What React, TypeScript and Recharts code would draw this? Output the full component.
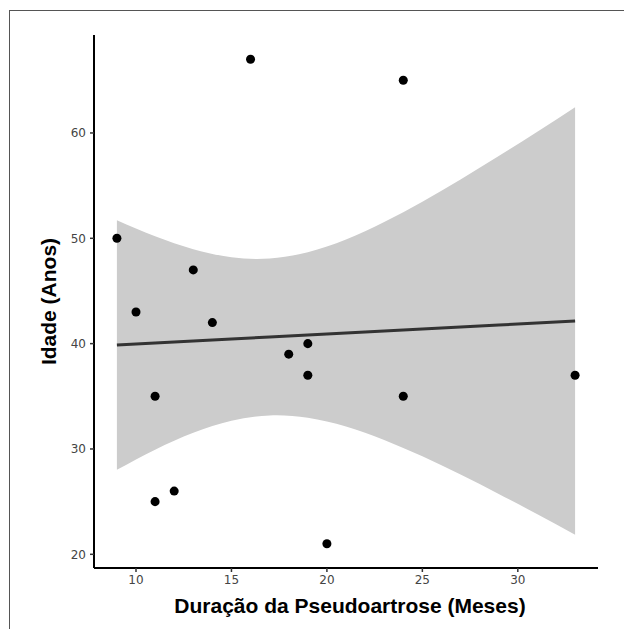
import {
  Area,
  ComposedChart,
  Label,
  Line,
  Scatter,
  XAxis,
  YAxis,
} from "recharts";

// observed points (months, age)
const pointMonths = [9, 10, 11, 11, 12, 13, 14, 16, 18, 19, 19, 20, 24, 24, 33];
const pointAges = [50, 43, 35, 25, 26, 47, 42, 67, 39, 40, 37, 21, 65, 35, 37];

// fitted line and confidence band
const bandMonths = [9, 11, 13, 15, 17, 19, 21, 23, 25, 27, 29, 31, 33];
const bandLow = [28.02, 29.93, 31.53, 32.68, 33.18, 32.96, 32.13, 30.86, 29.3, 27.57, 25.73, 23.82, 21.85];
const bandHigh = [51.72, 50.19, 48.97, 48.2, 48.08, 48.68, 49.89, 51.55, 53.48, 55.59, 57.81, 60.1, 62.45];
const fitAge = [39.87, 40.06, 40.25, 40.44, 40.63, 40.82, 41.01, 41.2, 41.39, 41.58, 41.77, 41.96, 42.15];

const xTicks = [10, 15, 20, 25, 30];
const yTicks = [20, 30, 40, 50, 60];

const bandRows = bandMonths.map((x, i) => ({
  x,
  band: [bandLow[i], bandHigh[i]],
  fit: fitAge[i],
}));

const points = pointMonths.map((x, i) => ({ x, y: pointAges[i] }));

const tickStyle = { fill: "#444", fontSize: 12, fontFamily: "DejaVu Sans" };
const titleStyle = {
  fill: "#000",
  fontSize: 21,
  fontWeight: 700,
  fontFamily: "Liberation Sans",
};

export default function App() {
  return (
    <div
      style={{
        position: "absolute",
        left: 0,
        top: 0,
        width: 624,
        height: 629,
        background: "#fff",
      }}
    >
      <div
        style={{
          position: "absolute",
          left: 9,
          top: 10,
          right: 0,
          bottom: 0,
          borderTop: "1.5px solid #555",
          borderLeft: "1.5px solid #555",
        }}
      />
      <div style={{ position: "absolute", left: 0, top: 0 }}>
        <ComposedChart
          width={624}
          height={629}
          data={bandRows}
          margin={{ top: 35, right: 26, bottom: 0, left: 0 }}
        >
          <XAxis
            dataKey="x"
            type="number"
            domain={[7.8, 34.2]}
            ticks={xTicks}
            allowDataOverflow
            height={61}
            tick={tickStyle}
            tickSize={4}
            tickMargin={3}
            axisLine={{ stroke: "#000", strokeWidth: 2 }}
            tickLine={{ stroke: "#333", strokeWidth: 1.5 }}
          >
            <Label
              value="Duração da Pseudoartrose (Meses)"
              position="center"
              dx={4}
              dy={7}
              style={titleStyle}
            />
          </XAxis>
          <YAxis
            type="number"
            domain={[18.7, 69.3]}
            ticks={yTicks}
            allowDataOverflow
            width={94}
            tick={tickStyle}
            tickSize={4}
            tickMargin={4}
            axisLine={{ stroke: "#000", strokeWidth: 2 }}
            tickLine={{ stroke: "#333", strokeWidth: 1.5 }}
          >
            <Label
              value="Idade (Anos)"
              position="center"
              angle={-90}
              dx={2}
              style={titleStyle}
            />
          </YAxis>
          <Area
            dataKey="band"
            type="natural"
            stroke="none"
            fill="#cccccc"
            fillOpacity={1}
            isAnimationActive={false}
          />
          <Line
            dataKey="fit"
            type="linear"
            stroke="#333333"
            strokeWidth={3}
            dot={false}
            isAnimationActive={false}
          />
          <Scatter data={points} dataKey="y" fill="#000" isAnimationActive={false} />
        </ComposedChart>
      </div>
    </div>
  );
}
